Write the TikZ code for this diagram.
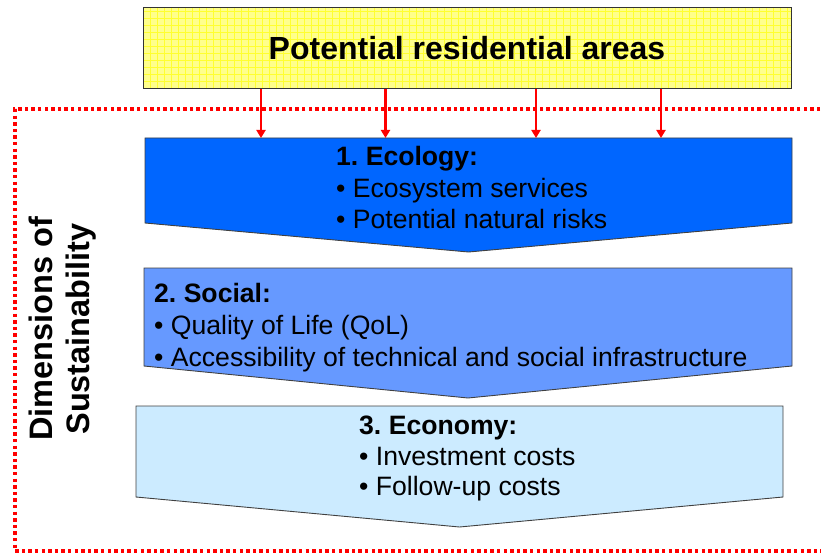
\documentclass[tikz,border=0pt]{standalone}
\usepackage{fontspec}
\setmainfont{Liberation Sans}
\usetikzlibrary{arrows.meta}
\definecolor{ecoblue}{HTML}{0066FF}
\definecolor{socblue}{HTML}{6699FF}
\definecolor{econblue}{HTML}{CCEBFF}
\definecolor{titleyellow}{HTML}{FFFF8C}
\definecolor{gridyellow}{HTML}{FFFF30}
\definecolor{dotred}{HTML}{FF0000}
\begin{document}
\frenchspacing
\begin{tikzpicture}[x=1pt,y=-1pt,
  dimbox/.style={draw=black!75,line width=0.9pt,line join=miter},
  bodytext/.style={anchor=base west,inner sep=0pt,font=\fontsize{26.6}{30}\selectfont\frenchspacing},
  headtext/.style={anchor=base west,inner sep=0pt,font=\fontsize{26.6}{30}\selectfont\bfseries\frenchspacing},
  sidetext/.style={rotate=90,anchor=base,inner sep=0pt,font=\fontsize{32.5}{37}\selectfont\bfseries},
  feed/.style={draw=dotred,line width=2.3pt,-{Triangle[width=9pt,length=8pt]}},
  dotframe/.style={draw=dotred,line width=3.5pt,dash pattern=on 3.4pt off 3.2pt}]
\useasboundingbox (0,0) rectangle (821,553);
\begin{scope}
\clip (0,0) rectangle (821,553);
\draw[dotframe] (840,109) -- (15,109) -- (15,551) -- (840,551);
\end{scope}
% title box
\node[draw=black!80,line width=1pt,fill=titleyellow,minimum width=648pt,minimum height=81pt,inner sep=0pt,
  font=\fontsize{32}{36}\selectfont\bfseries,
  path picture={\draw[gridyellow,line width=0.35pt] (path picture bounding box.south west) grid[step=7pt] (path picture bounding box.north east);}]
  (title) at (467,48.5) {Potential residential areas};
% chevrons
\draw[dimbox,fill=ecoblue] (145,138) -- (792,138) -- (792,223) -- (468.5,252) -- (145,223) -- cycle;
\draw[dimbox,fill=socblue] (144,268) -- (792,268) -- (792,366) -- (468,398) -- (144,366) -- cycle;
\draw[dimbox,fill=econblue] (136,406) -- (783,406) -- (783,497) -- (459.5,527) -- (136,497) -- cycle;
% arrows
\coordinate (t1) at (261,138);
\coordinate (t2) at (385.5,138);
\coordinate (t3) at (536,138);
\coordinate (t4) at (661,138);
\foreach \t in {t1,t2,t3,t4}{\draw[feed] (title.south -| \t) -- (\t);}
% texts
\node[headtext] (e0) at (336,166) {1. Ecology:};
\node[bodytext] (e1) at (336,197.5) {• Ecosystem services};
\node[bodytext] (e2) at (336,229) {• Potential natural risks};
\node[headtext] (s0) at (154,302.5) {2. Social:};
\node[bodytext] (s1) at (154,334.5) {• Quality of Life (QoL)};
\node[bodytext] (s2) at (154,366) {• Accessibility of technical and social infrastructure};
\node[headtext] (c0) at (359,434.5) {3. Economy:};
\node[bodytext] (c1) at (359,465) {• Investment costs};
\node[bodytext] (c2) at (359,495) {• Follow-up costs};
\node[sidetext] (dim1) at (52,329) {Dimensions of};
\node[sidetext] (dim2) at (89,329) {Sustainability};
\end{tikzpicture}
\end{document}
